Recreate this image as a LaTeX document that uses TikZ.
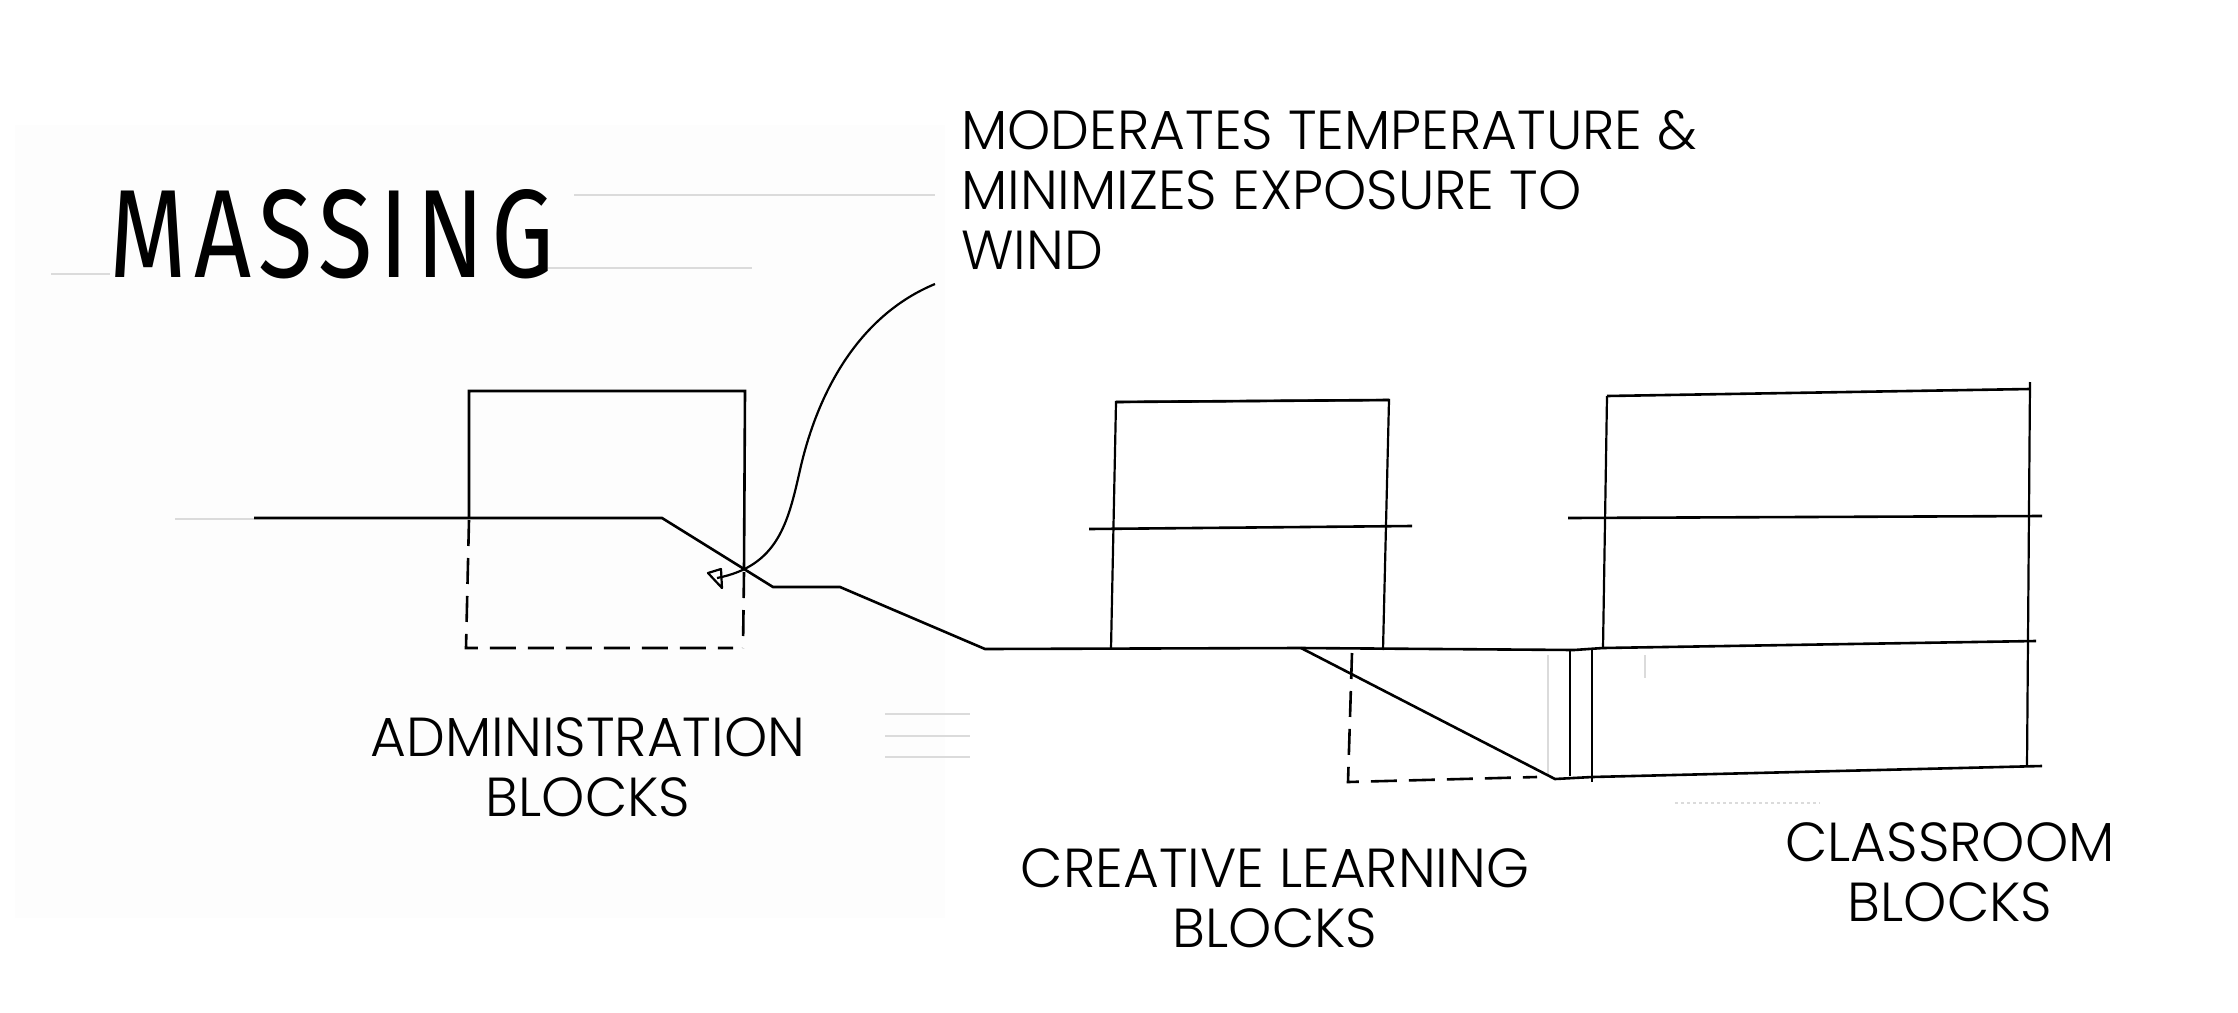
\documentclass[tikz,border=0pt]{standalone}
\usepackage{fontspec}
\usepackage{graphicx}
\setmainfont{Poppins}[UprightFont=* Light]
\newfontfamily\titlefont{Fira Sans}[LetterSpace=7]
\tikzset{
  ink/.style={line width=2.6pt,black,line join=miter},
  inkthin/.style={line width=2.2pt,black},
  dashink/.style={line width=2.6pt,black,dash pattern=on 26pt off 12pt},
  faint/.style={line width=1.3pt,black!14},
  lbl/.style={inner sep=0pt,align=center,font=\fontsize{55}{60}\selectfont},
}
\begin{document}
\begin{tikzpicture}[x=1pt,y=-1pt]
\useasboundingbox (0,0) rectangle (2238,1012);
\fill[white] (0,0) rectangle (2238,1012);
\fill[black!0.6] (15,125) rectangle (945,918);
% faint scan marks
\draw[faint] (574,195) -- (935,195);
\draw[faint] (548,268) -- (752,268);
\draw[faint] (51,274) -- (110,274);
\draw[faint] (175,519) -- (254,519);
\draw[faint] (885,714) -- (970,714);
\draw[faint] (885,736) -- (970,736);
\draw[faint] (885,757) -- (970,757);
\draw[faint,dashed] (1675,803) -- (1820,803);
\draw[faint] (1548,655) -- (1548,775);
\draw[faint] (1645,655) -- (1645,678);
% title
\node[inner sep=0pt,anchor=center] (title) at (332,234) {\titlefont\resizebox{444pt}{88pt}{MASSING}};
% administration block
\draw[ink] (469,518) -- (469,391) -- (745,391) -- (744,570);
\draw[dashink] (469,520) -- (466,648) -- (733,648);
\draw[dashink] (744,572) -- (743,648);
% ground line
\draw[ink] (254,518) -- (662,518) -- (773,587) -- (840,587) -- (985,649) -- (1300,648) -- (1574,650) -- (1603,648) -- (2036,641);
% creative learning block
\draw[inkthin] (1111,649) -- (1116,402) -- (1389,400) -- (1383,650);
\draw[ink] (1116,402) -- (1389,400);
\draw[ink] (1089,529) -- (1412,526);
\draw[ink] (1301,648) -- (1555,779) -- (1592,777) -- (2042,766);
\draw[dashink] (1352,653) -- (1348,782) -- (1537,777);
% classroom block
\draw[inkthin] (1603,648) -- (1607,396);
\draw[ink] (1607,396) -- (2030,389);
\draw[inkthin] (2030,382) -- (2027,766);
\draw[ink] (1568,518) -- (2042,516);
\draw[inkthin] (1570,650) -- (1570,776);
\draw[inkthin] (1592,648) -- (1592,782);
% annotation
\node[lbl,align=left,anchor=north west] (note) at (961,110) {MODERATES TEMPERATURE \&\\MINIMIZES EXPOSURE TO\\WIND};
\coordinate (noteend) at (935,284);
\coordinate (tip) at (717,578);
\draw[inkthin] (noteend) .. controls (860,315) and (818,390) .. (800,470)
  .. controls (788,523) and (778,566) .. (tip);
\draw[inkthin,line join=round] (721,569) -- (708,573) -- (722,588) -- cycle;
% labels
\node[lbl] (admin) at (588,767) {ADMINISTRATION\\BLOCKS};
\node[lbl] (creative) at (1275,898) {CREATIVE LEARNING\\BLOCKS};
\node[lbl] (classroom) at (1950,872) {CLASSROOM\\BLOCKS};
\end{tikzpicture}
\end{document}
